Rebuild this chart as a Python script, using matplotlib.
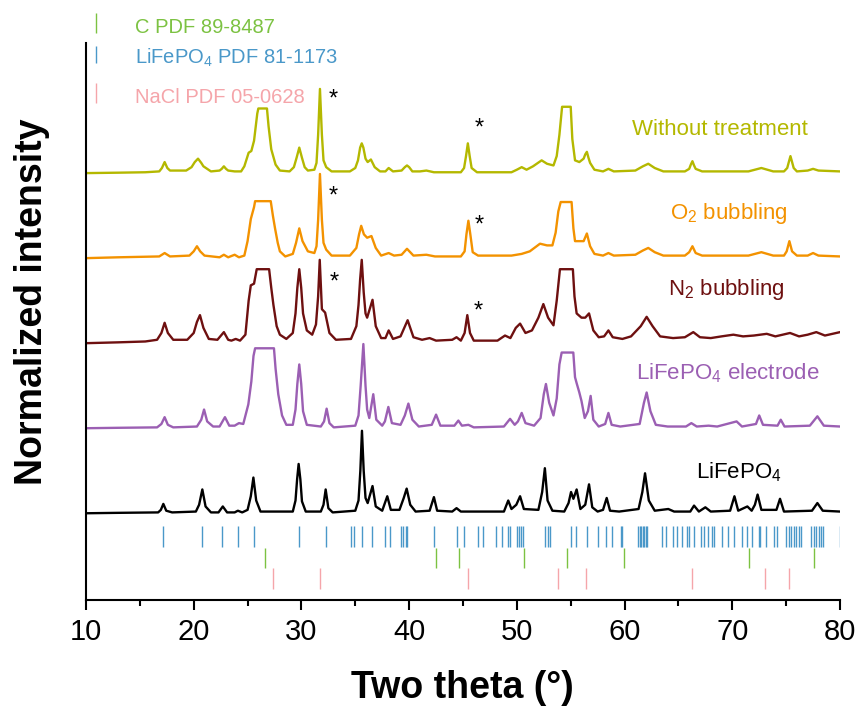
import numpy as np
import matplotlib
matplotlib.use('Agg')
import matplotlib.pyplot as plt

plt.rcParams['font.family'] = 'Liberation Sans'
plt.rcParams['mathtext.default'] = 'regular'

# reference card positions (2theta, deg)
lfp_ref = [17.16, 20.80, 22.65, 24.13, 25.6, 29.76, 32.26, 34.6, 34.84, 35.6, 36.55, 37.8,
           38.26, 39.27, 39.46, 39.69, 39.83, 42.3, 44.45, 45.05, 46.4, 46.85, 48.05, 48.6,
           49.15, 49.4, 49.99, 50.17, 50.36, 50.54, 52.6, 52.85, 53.08, 55.0, 55.48, 56.54,
           57.56, 58.25, 58.85, 59.64, 59.78, 61.25, 61.39, 61.53, 61.67, 61.85, 61.99, 62.08,
           63.47, 63.84, 64.49, 64.85, 65.32, 65.78, 66.01, 66.47, 67.07, 67.39, 67.72, 68.09,
           68.27, 69.01, 69.56, 70.16, 70.86, 71.41, 71.87, 72.47, 72.61, 73.17, 73.9, 74.18,
           75.0, 75.24, 75.47, 75.75, 75.93, 76.17, 76.4, 77.32, 77.55, 77.78, 78.01, 78.24,
           78.38, 80.0]
c_ref = [26.62, 42.46, 44.63, 50.68, 54.70, 59.96, 71.55, 77.55]
nacl_ref = [27.36, 31.70, 45.46, 53.86, 56.45, 66.24, 73.07, 75.29]

# patterns: (2theta, normalized intensity above own baseline)
untreated_x = [10, 13.0, 15.5, 16.8, 17.05, 17.3, 17.55, 17.8, 19.3, 19.8, 20.1, 20.4, 20.7, 20.9,
               21.6, 22.4, 22.6, 22.8, 23.0, 23.2, 23.8, 24.4, 24.7, 25.1, 25.35, 25.6, 25.9,
               26.0, 26.8, 26.95, 27.2, 27.6, 28.0, 28.9, 29.3, 29.55, 29.8, 30.05, 30.3, 30.6,
               31.2, 31.4, 31.55, 31.72, 31.9, 32.05, 32.3, 32.8, 34.5, 35.0, 35.25, 35.45, 35.6,
               35.75, 35.95, 36.15, 36.45, 36.8, 37.3, 37.8, 38.1, 38.5, 39.3, 39.6, 39.8, 40.0,
               40.3, 41.0, 41.6, 42.3, 44.8, 45.1, 45.28, 45.45, 45.62, 45.8, 46.3, 49.5, 50.0,
               50.45, 50.9, 51.5, 52.3, 52.8, 53.4, 53.7, 53.95, 54.2, 55.0, 55.15, 55.4, 55.8,
               56.2, 56.35, 56.5, 56.65, 56.8, 57.2, 58.0, 58.5, 59.0, 61.0, 61.7, 62.2, 62.8,
               63.6, 65.6, 66.0, 66.15, 66.3, 66.45, 66.6, 67.2, 71.5, 72.7, 73.8, 74.8, 75.1,
               75.27, 75.4, 75.53, 75.7, 76.0, 77.0, 77.5, 78.0, 80.0]
untreated_y = [0, 0.005, 0.01, 0.02, 0.06, 0.13, 0.06, 0.03, 0.03, 0.07, 0.13, 0.17, 0.12, 0.08,
               0.02, 0.03, 0.05, 0.08, 0.05, 0.03, 0.02, 0.02, 0.08, 0.24, 0.26, 0.38, 0.70,
               0.76, 0.76, 0.55, 0.28, 0.10, 0.03, 0.02, 0.07, 0.18, 0.30, 0.18, 0.07, 0.03,
               0.04, 0.12, 0.45, 0.99, 0.45, 0.15, 0.07, 0.02, 0.02, 0.06, 0.15, 0.30, 0.35,
               0.30, 0.17, 0.13, 0.16, 0.07, 0.02, 0.02, 0.06, 0.02, 0.03, 0.07, 0.09, 0.07,
               0.02, 0.02, 0.03, 0.01, 0.01, 0.06, 0.20, 0.35, 0.20, 0.06, 0.01, 0.01, 0.04,
               0.07, 0.04, 0.08, 0.15, 0.11, 0.09, 0.20, 0.45, 0.78, 0.78, 0.40, 0.15, 0.13,
               0.17, 0.22, 0.25, 0.18, 0.12, 0.04, 0.02, 0.05, 0.02, 0.03, 0.08, 0.11, 0.06,
               0.02, 0.02, 0.05, 0.10, 0.14, 0.09, 0.05, 0.02, 0.02, 0.06, 0.02, 0.02, 0.06,
               0.14, 0.20, 0.14, 0.06, 0.02, 0.03, 0.05, 0.03, 0.02]

o2_x = [10, 13.0, 16.8, 17.3, 17.8, 19.6, 20.0, 20.3, 20.6, 21.0, 22.4, 22.8, 23.2, 23.8, 24.2,
        24.7, 25.0, 25.3, 25.6, 25.7, 27.15, 27.35, 27.55, 27.8, 28.0, 28.5, 29.2, 29.5, 29.8,
        30.1, 30.6, 31.2, 31.4, 31.55, 31.72, 31.9, 32.05, 32.3, 32.8, 34.5, 35.1, 35.35,
        35.55, 35.8, 36.1, 36.5, 36.9, 37.4, 38.1, 38.6, 39.3, 39.8, 40.4, 41.6, 42.4, 44.8,
        45.15, 45.32, 45.5, 45.68, 45.9, 46.4, 49.5, 50.45, 51.2, 52.15, 52.8, 53.3, 53.6,
        53.85, 54.07, 55.08, 55.25, 55.4, 55.9, 56.2, 56.5, 56.8, 57.2, 58.0, 58.5, 59.0,
        61.0, 61.7, 62.2, 62.8, 63.6, 65.6, 66.0, 66.3, 66.6, 67.2, 71.5, 72.7, 73.8, 74.8,
        75.05, 75.3, 75.55, 76.0, 77.0, 77.5, 78.0, 80.0]
o2_y = [0, 0.01, 0.02, 0.06, 0.02, 0.03, 0.08, 0.14, 0.08, 0.03, 0.01, 0.04, 0.01, 0.04, 0.01,
        0.03, 0.20, 0.46, 0.60, 0.67, 0.67, 0.50, 0.35, 0.18, 0.08, 0.02, 0.05, 0.18, 0.35,
        0.20, 0.08, 0.06, 0.14, 0.45, 0.99, 0.45, 0.18, 0.10, 0.03, 0.03, 0.12, 0.28,
        0.38, 0.28, 0.24, 0.26, 0.12, 0.03, 0.06, 0.03, 0.04, 0.11, 0.03, 0.04, 0.02, 0.02,
        0.08, 0.28, 0.44, 0.28, 0.07, 0.03, 0.03, 0.05, 0.08, 0.17, 0.15, 0.15, 0.30,
        0.55, 0.66, 0.66, 0.35, 0.20, 0.20, 0.20, 0.29, 0.14, 0.05, 0.03, 0.06, 0.03,
        0.04, 0.09, 0.12, 0.07, 0.03, 0.03, 0.07, 0.14, 0.06, 0.03, 0.03, 0.07, 0.03, 0.03,
        0.08, 0.20, 0.08, 0.03, 0.03, 0.06, 0.03, 0.02]

n2_x = [10, 13.0, 15.5, 16.6, 17.0, 17.3, 17.6, 18.1, 19.4, 20.0, 20.3, 20.58, 20.9, 21.4, 22.2,
        22.8, 23.2, 23.5, 23.9, 24.3, 24.8, 25.1, 25.3, 25.6, 25.85, 27.0, 27.2, 27.4, 27.7,
        28.0, 28.6, 29.2, 29.45, 29.62, 29.8, 29.98, 30.15, 30.5, 31.0, 31.35, 31.55, 31.7,
        31.9, 32.2, 32.6, 33.2, 34.6, 35.1, 35.3, 35.45, 35.6, 35.78, 35.95, 36.1, 36.6, 36.9,
        37.4, 37.8, 38.1, 38.5, 39.2, 39.86, 40.4, 41.2, 41.9, 42.5, 44.0, 44.4, 44.8, 45.15,
        45.4, 45.65, 46.0, 48.2, 48.9, 49.4, 49.9, 50.3, 50.8, 51.4, 52.0, 52.46, 52.9, 53.4,
        53.7, 54.0, 55.2, 55.35, 55.55, 56.0, 56.35, 56.7, 57.1, 57.6, 58.1, 58.5, 58.9, 59.8,
        60.6, 61.5, 62.05, 62.6, 63.3, 64.5, 65.6, 66.38, 67.0, 68.0, 69.0, 70.1, 71.0, 72.0,
        73.2, 74.0, 75.36, 76.2, 77.0, 77.8, 78.6, 79.3, 80.0]
n2_y = [0, 0.01, 0.02, 0.04, 0.12, 0.24, 0.12, 0.04, 0.04, 0.12, 0.25, 0.33, 0.18, 0.05, 0.04,
        0.13, 0.04, 0.03, 0.05, 0.03, 0.10, 0.50, 0.68, 0.70, 0.87, 0.87, 0.65, 0.45, 0.20,
        0.10, 0.05, 0.12, 0.35, 0.65, 0.87, 0.65, 0.35, 0.15, 0.10, 0.22, 0.55, 0.98,
        0.40, 0.36, 0.12, 0.04, 0.05, 0.20, 0.45, 0.75, 0.98, 0.60, 0.35, 0.30, 0.51, 0.20,
        0.06, 0.06, 0.15, 0.05, 0.08, 0.27, 0.07, 0.04, 0.06, 0.03, 0.04, 0.07, 0.03, 0.12,
        0.33, 0.12, 0.03, 0.03, 0.09, 0.06, 0.18, 0.23, 0.12, 0.15, 0.30, 0.46, 0.30, 0.21,
        0.50, 0.87, 0.87, 0.55, 0.35, 0.30, 0.30, 0.35, 0.15, 0.07, 0.08, 0.15, 0.07, 0.05,
        0.08, 0.20, 0.31, 0.20, 0.08, 0.06, 0.07, 0.13, 0.07, 0.06, 0.08, 0.10, 0.08, 0.09,
        0.11, 0.08, 0.12, 0.08, 0.10, 0.13, 0.09, 0.11, 0.13]

electrode_x = [10, 13.0, 16.6, 17.0, 17.3, 17.6, 18.1, 20.3, 20.7, 20.96, 21.25, 21.8, 22.4, 22.9,
               23.3, 23.8, 24.2, 24.6, 25.07, 25.35, 25.55, 25.7, 27.45, 27.6, 27.85, 28.2,
               28.6, 29.2, 29.45, 29.62, 29.8, 29.98, 30.15, 30.5, 31.8, 32.1, 32.34, 32.6, 33.0,
               35.0, 35.3, 35.5, 35.75, 35.95, 36.1, 36.3, 36.67, 36.95, 37.5, 37.75, 38.07, 38.4,
               39.2, 39.6, 39.93, 40.3, 40.9, 42.1, 42.5, 42.9, 44.2, 44.57, 44.9, 45.5, 46.0,
               48.8, 49.37, 49.8, 50.1, 50.45, 50.8, 51.6, 52.2, 52.5, 52.7, 53.0, 53.4, 53.7,
               53.95, 54.16, 55.24, 55.4, 55.55, 55.8, 56.0, 56.3, 56.6, 56.85, 57.1, 57.6, 58.2,
               58.5, 58.8, 59.6, 61.4, 61.8, 62.05, 62.4, 62.9, 64.0, 65.7, 66.2, 66.7, 67.8,
               68.6, 70.4, 70.9, 72.2, 72.5, 72.85, 74.2, 74.5, 74.85, 77.2, 77.9, 78.5, 80.0]
electrode_y = [0, 0.005, 0.01, 0.05, 0.13, 0.04, 0.01, 0.02, 0.10, 0.22, 0.08, 0.02, 0.02, 0.13,
               0.03, 0.03, 0.06, 0.05, 0.28, 0.55, 0.85, 0.94, 0.94, 0.70, 0.40, 0.15,
               0.04, 0.04, 0.22, 0.52, 0.75, 0.52, 0.20, 0.04, 0.02, 0.08, 0.23, 0.06, 0.01,
               0.03, 0.15, 0.50, 0.99, 0.50, 0.22, 0.12, 0.40, 0.10, 0.03, 0.08, 0.25, 0.06,
               0.04, 0.15, 0.29, 0.10, 0.02, 0.04, 0.16, 0.03, 0.03, 0.09, 0.03, 0.04, 0.01,
               0.02, 0.11, 0.04, 0.08, 0.18, 0.06, 0.03, 0.12, 0.40, 0.52, 0.30, 0.15, 0.35,
               0.75, 0.89, 0.89, 0.60, 0.53, 0.42, 0.32, 0.12, 0.20, 0.38, 0.10, 0.02, 0.05,
               0.18, 0.04, 0.02, 0.05, 0.30, 0.42, 0.20, 0.04, 0.02, 0.02, 0.06, 0.02, 0.03,
               0.02, 0.08, 0.02, 0.05, 0.15, 0.04, 0.03, 0.10, 0.02, 0.03, 0.14, 0.03, 0.02]

lfp_x = [10, 13.0, 16.7, 16.95, 17.18, 17.45, 18.0, 20.2, 20.5, 20.8, 21.1, 21.6, 22.3, 22.7, 23.1,
         23.8, 24.1, 24.5, 25.0, 25.3, 25.54, 25.8, 26.2, 29.2, 29.45, 29.6, 29.74, 29.9, 30.05,
         30.4, 31.8, 32.05, 32.25, 32.5, 32.9, 35.0, 35.3, 35.47, 35.62, 35.78, 35.95, 36.15,
         36.6, 36.9, 37.5, 37.97, 38.3, 39.1, 39.5, 39.77, 40.1, 40.6, 41.9, 42.3, 42.6, 44.0,
         44.4, 44.8, 45.5, 48.8, 49.2, 49.5, 49.95, 50.3, 50.65, 52.0, 52.35, 52.6, 52.85,
         53.3, 54.4, 54.8, 55.03, 55.25, 55.55, 55.9, 56.35, 56.7, 57.0, 57.5, 58.0, 58.34,
         58.65, 59.5, 61.3, 61.65, 61.9, 62.25, 62.8, 64.06, 64.6, 66.1, 66.45, 66.9, 67.5,
         68.0, 69.8, 70.2, 70.55, 71.4, 71.8, 72.1, 72.35, 72.7, 74.1, 74.43, 74.8, 77.4,
         77.9, 78.4, 80.0]
lfp_y = [0, 0.005, 0.01, 0.04, 0.11, 0.03, 0.01, 0.02, 0.10, 0.28, 0.08, 0.01, 0.01, 0.08, 0.01,
         0.01, 0.03, 0.01, 0.04, 0.20, 0.42, 0.15, 0.02, 0.02, 0.15, 0.40, 0.58, 0.40, 0.14,
         0.02, 0.02, 0.10, 0.28, 0.06, 0.01, 0.03, 0.15, 0.50, 0.97, 0.50, 0.18, 0.12,
         0.32, 0.08, 0.03, 0.20, 0.04, 0.04, 0.18, 0.29, 0.10, 0.02, 0.03, 0.19, 0.03, 0.02,
         0.06, 0.02, 0.02, 0.02, 0.15, 0.05, 0.10, 0.20, 0.05, 0.04, 0.25, 0.53, 0.15,
         0.03, 0.02, 0.12, 0.25, 0.17, 0.28, 0.05, 0.10, 0.34, 0.07, 0.02, 0.04, 0.18,
         0.03, 0.02, 0.05, 0.25, 0.47, 0.15, 0.03, 0.05, 0.02, 0.02, 0.09, 0.02, 0.07,
         0.02, 0.03, 0.20, 0.03, 0.08, 0.03, 0.10, 0.22, 0.04, 0.04, 0.17, 0.02, 0.03,
         0.12, 0.03, 0.02]

labels = ['Without treatment', 'O$_2$ bubbling', 'N$_2$ bubbling',
          'LiFePO$_4$ electrode', 'LiFePO$_4$']
colors = ['#b4b800', '#f39200', '#6e1010', '#9b5fb3', '#000000']
patterns = [(untreated_x, untreated_y), (o2_x, o2_y), (n2_x, n2_y),
            (electrode_x, electrode_y), (lfp_x, lfp_y)]
offsets = [4, 3, 2, 1, 0]
label_pos = [(60.7, 4.45), (64.2, 3.46), (64.05, 2.57), (61.1, 1.58), (66.6, 0.415)]

# NaCl reflections marked with *
star_pos = [(32.93, 4.87), (46.49, 4.52), (32.93, 3.72), (46.49, 3.38), (33.0, 2.71), (46.4, 2.37)]

fig = plt.figure(figsize=(8.61, 7.11), dpi=100)
ax = fig.add_axes([86 / 861, 111 / 711, 754 / 861, 557 / 711])

for (x, y), off, col, lab, pos in zip(patterns, offsets, colors, labels, label_pos):
    ax.plot(x, np.array(y) + off, color=col, lw=1.7, solid_joinstyle='round')
    ax.text(pos[0], pos[1], lab, color=col, fontsize=16, ha='left', va='baseline')

for sx, sy in star_pos:
    ax.text(sx, sy, '*', fontsize=17, ha='center', va='center', color='black')

ref_sets = [(lfp_ref, '#4a98c9', -0.15, -0.40),
            (c_ref, '#7cc242', -0.41, -0.64),
            (nacl_ref, '#f5a5aa', -0.64, -0.89)]
for pos, col, y0, y1 in ref_sets:
    ax.vlines(pos, y1, y0, color=col, lw=1.0)

# key for the reference cards, above the traces
key = [('C PDF 89-8487', '#7cc242', 5.65, 5.88),
       ('LiFePO$_4$ PDF 81-1173', '#4a98c9', 5.29, 5.49),
       ('NaCl PDF 05-0628', '#f5a5aa', 4.82, 5.06)]
for txt, col, y0, y1 in key:
    ax.vlines(10.93, y0, y1, color=col, lw=1.0, clip_on=False)
    ax.text(14.55, y0, txt, color=col, fontsize=14.5, ha='left', va='baseline', clip_on=False)

ax.set_xlim(10, 80)
ax.set_ylim(-1.02, 5.53)
ax.set_xticks(range(10, 81, 10))
ax.set_xticks(range(15, 80, 10), minor=True)
ax.set_yticks([])
ax.spines['top'].set_visible(False)
ax.spines['right'].set_visible(False)
ax.spines['left'].set_linewidth(1.5)
ax.spines['bottom'].set_linewidth(1.5)
ax.tick_params(axis='x', which='major', length=7, width=1.5, labelsize=21, pad=6)
ax.tick_params(axis='x', which='minor', length=4, width=1.5)

fig.text(462 / 861, 1 - 688 / 711, 'Two theta (°)', fontsize=27, fontweight='bold',
         ha='center', va='center')
fig.text(32 / 861, 1 - 302 / 711, 'Normalized intensity', fontsize=27, fontweight='bold',
         rotation=90, ha='center', va='center')

fig.savefig('out.png', dpi=100)
